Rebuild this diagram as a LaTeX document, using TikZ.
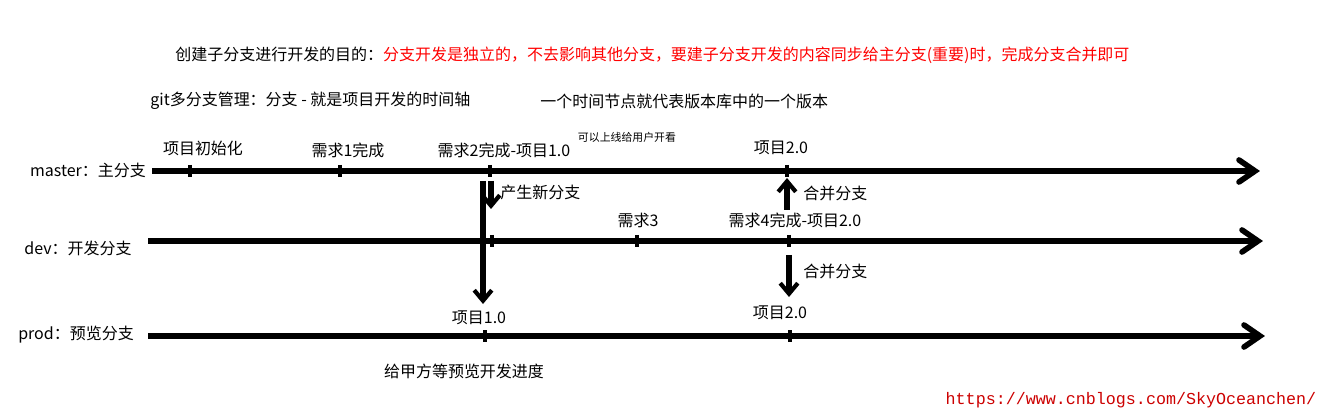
\documentclass[tikz,border=0pt]{standalone}
\usepackage{fontspec}
\setmainfont{Noto Sans CJK SC}
\newfontfamily\urlfont{Liberation Mono}
\usetikzlibrary{arrows.meta}
\begin{document}
\begin{tikzpicture}[x=0.02cm,y=-0.02cm,
  txt/.style={font=\fontsize{9.1}{10}\selectfont, inner sep=0pt},
  small/.style={font=\fontsize{6.2}{7}\selectfont, inner sep=0pt},
  axis/.style={line width=3.2pt},
  tick/.style={line width=2pt},
  flow/.style={line width=3.2pt, -{Straight Barb[length=6pt,width=10pt,line width=2.4pt]}}]
\useasboundingbox (0,0) rectangle (1327,418);
% headings
\node[txt, anchor=west] (goal) at (175,55) {创建子分支进行开发的目的：\textcolor{red}{分支开发是独立的，不去影响其他分支，要建子分支开发的内容同步给主分支(重要)时，完成分支合并即可}};
\node[txt, anchor=west] (intro) at (150,101) {git多分支管理：分支 - 就是项目开发的时间轴};
\node[txt, anchor=west] (node) at (540,101) {一个时间节点就代表版本库中的一个版本};
% branches
\node[txt] (master) at (88,170) {master：主分支};
\node[txt] (dev) at (78,248) {dev：开发分支};
\node[txt] (prod) at (76,335) {prod：预览分支};
\foreach \n/\y/\a/\b in {m/171/152/1255, d/241/148/1258, p/336/148/1260}{
  \coordinate (\n s) at (\a,\y);
  \coordinate (\n e) at (\b,\y);
  \draw[axis] (\n s) -- (\n e);
  \draw[axis, line cap=round] (\b-16,\y-11) -- (\n e) -- (\b-16,\y+11);
}
% ticks
\foreach \x/\y in {190/171, 340/171, 490/171, 787/171, 492/241, 637/241, 789/241, 485/336, 790/336}
  \draw[tick] (\x,\y-6) -- (\x,\y+6);
% commit labels
\node[txt] (init) at (203,148) {项目初始化};
\node[txt] (req1) at (348,150) {需求1完成};
\node[txt] (req2) at (504,150) {需求2完成-项目1.0};
\node[small] (online) at (627,137) {可以上线给用户开看};
\node[txt] (m2) at (781,148) {项目2.0};
\node[txt] (req3) at (638,220) {需求3};
\node[txt] (req4) at (795,220) {需求4完成-项目2.0};
\node[txt] (p1) at (479,318) {项目1.0};
\node[txt] (p2) at (780,313) {项目2.0};
\node[txt] (show) at (464,371) {给甲方等预览开发进度};
\node[font=\urlfont\fontsize{9.5}{10}\selectfont, text=red!80!black, inner sep=0pt] (url) at (1131,400) {https://www.cnblogs.com/SkyOceanchen/};
% branch arrows
\coordinate (b1) at (483,181);
\coordinate (b2) at (483,304);
\coordinate (n1) at (491,181);
\coordinate (n2) at (491,209);
\coordinate (u1) at (787,210);
\coordinate (u2) at (787,178);
\coordinate (w1) at (789,255);
\coordinate (w2) at (789,297);
\draw[flow] (b1) -- (b2);
\draw[flow] (n1) -- (n2);
\draw[flow] (u1) -- (u2);
\draw[flow] (w1) -- (w2);
\node[txt, anchor=west] (newb) at (500,192) {产生新分支};
\node[txt, anchor=west] (merge1) at (803,193) {合并分支};
\node[txt, anchor=west] (merge2) at (803,271) {合并分支};
\end{tikzpicture}
\end{document}
